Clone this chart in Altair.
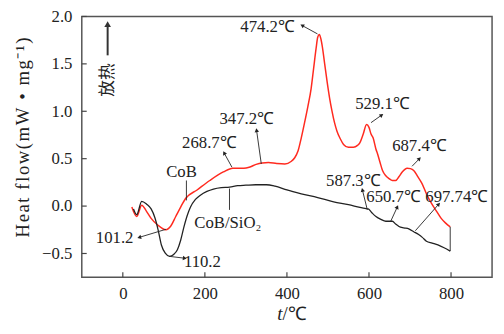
import math
import altair as alt
import pandas as pd

# ---- data ----
cob_t = [22, 34, 46, 57, 69, 85, 105, 117, 129, 141, 153, 181, 212, 245, 268, 295, 308, 325, 340, 355,
         375, 395, 410, 419, 427, 435, 443, 451, 459, 465, 471, 475, 479, 483, 486, 492, 498, 504, 510,
         516, 522, 530, 538, 550, 562, 572, 578, 586, 594, 600, 605, 610, 617, 621, 627, 633, 641, 649,
         657, 665, 673, 681, 693, 701, 709, 719, 729, 740, 752, 764, 776, 787, 798]
cob_v = [-0.01, -0.11, 0.01, -0.05, -0.13, -0.20, -0.25, -0.21, -0.11, -0.01, 0.08, 0.17, 0.27, 0.36,
         0.40, 0.40, 0.41, 0.44, 0.455, 0.46, 0.45, 0.445, 0.47, 0.51, 0.58, 0.72, 0.88, 1.05, 1.24, 1.45,
         1.66, 1.78, 1.81, 1.76, 1.69, 1.50, 1.31, 1.14, 1.00, 0.88, 0.79, 0.71, 0.65, 0.62, 0.62, 0.64,
         0.67, 0.76, 0.86, 0.83, 0.76, 0.72, 0.60, 0.55, 0.46, 0.375, 0.32, 0.29, 0.27, 0.27, 0.31, 0.36,
         0.40, 0.395, 0.375, 0.31, 0.24, 0.13, 0.03, -0.05, -0.13, -0.18, -0.22]

sio_t = [26, 34, 46, 58, 69, 78, 86, 94, 104, 114, 124, 133, 141, 149, 157, 165, 177, 189, 205, 221,
         240, 260, 280, 300, 324, 350, 371, 400, 435, 475, 514, 550, 578, 590, 598, 607, 617, 629, 641,
         657, 665, 673, 685, 697, 709, 721, 730, 740, 754, 768, 783, 798]
sio_v = [-0.03, -0.09, 0.05, 0.02, -0.03, -0.12, -0.25, -0.41, -0.50, -0.53, -0.51, -0.46, -0.36, -0.22,
         -0.10, -0.01, 0.07, 0.115, 0.155, 0.18, 0.195, 0.20, 0.215, 0.22, 0.225, 0.225, 0.21, 0.17, 0.13,
         0.09, 0.045, 0.015, -0.014, -0.025, -0.03, -0.07, -0.11, -0.14, -0.16, -0.16, -0.19, -0.215,
         -0.23, -0.24, -0.27, -0.30, -0.33, -0.37, -0.39, -0.41, -0.44, -0.475]

x_ticks = [0, 200, 400, 600, 800]
y_ticks = [-0.5, 0.0, 0.5, 1.0, 1.5, 2.0]

y_title = "Heat flow(mW • mg⁻¹)"

label_text = ["474.2℃", "347.2℃", "268.7℃", "CoB", "CoB/SiO₂", "101.2", "110.2",
              "529.1℃", "687.4℃", "587.3℃", "650.7℃", "697.74℃"]
label_x = [353, 302, 211, 143, 256, -20, 194, 633, 723, 562, 660, 814]
label_y = [1.885, 0.914, 0.66, 0.357, -0.18, -0.336, -0.586, 1.076, 0.628, 0.264, 0.097, 0.097]

# arrows: tail (on curve) -> head (at label)
arr_x1 = [474.5, 337.5, 266, 105, 113, 605, 705, 596, 653, 713]
arr_y1 = [1.816, 0.445, 0.41, -0.245, -0.53, 0.88, 0.42, -0.04, -0.16, -0.26]
arr_x2 = [437, 326, 247, 40, 151, 631, 723, 584, 669, 770]
arr_y2 = [1.905, 0.80, 0.56, -0.33, -0.55, 0.96, 0.50, 0.17, -0.01, 0.02]

# the upward "exothermic" arrow
exo_x1, exo_y1, exo_x2, exo_y2 = [-37], [1.59], [-37], [1.92]

# plain pointer lines
ln_x1 = [155, 260, 798]
ln_y1 = [0.27, 0.185, -0.475]
ln_x2 = [155, 260, 798]
ln_y2 = [0.06, -0.04, -0.22]

W, H = 417, 265
XD = [-100, 900]
YD = [-0.75, 2.0]
FONT = "Liberation Serif"

xs = alt.Scale(domain=XD, nice=False, zero=False)
ys = alt.Scale(domain=YD, nice=False, zero=False)

px_x = W / (XD[1] - XD[0])
px_y = H / (YD[1] - YD[0])


def angles(x1, y1, x2, y2):
    return [math.degrees(math.atan2((b - a) * px_x, (d - c) * px_y)) % 360
            for a, b, c, d in zip(x1, x2, y1, y2)]


cob = pd.DataFrame({"t": cob_t, "v": cob_v})
sio = pd.DataFrame({"t": sio_t, "v": sio_v})
labels = pd.DataFrame({"txt": label_text, "x": label_x, "y": label_y})
arrows = pd.DataFrame({"x1": arr_x1, "y1": arr_y1, "x2": arr_x2, "y2": arr_y2,
                       "ang": angles(arr_x1, arr_y1, arr_x2, arr_y2)})
exo = pd.DataFrame({"x1": exo_x1, "y1": exo_y1, "x2": exo_x2, "y2": exo_y2,
                    "ang": angles(exo_x1, exo_y1, exo_x2, exo_y2)})
lines = pd.DataFrame({"x1": ln_x1, "y1": ln_y1, "x2": ln_x2, "y2": ln_y2})

spaced_title = "\u200a".join(y_title)

base_x = alt.X("t:Q", scale=xs,
               axis=alt.Axis(values=x_ticks, title=None, ticks=False, domain=False, grid=False,
                             labelPadding=9, labelFontSize=17, labelFont=FONT, labelColor="#222"))
base_y = alt.Y("v:Q", scale=ys,
               axis=alt.Axis(values=y_ticks, format=".1f", title=spaced_title,
                             ticks=False, domain=False, grid=False, labelPadding=10,
                             labelFontSize=17, labelFont=FONT, labelColor="#222",
                             titleFont=FONT, titleFontSize=19, titleFontWeight="normal",
                             titleColor="#222", titlePadding=9, titleY=H / 2 - 10))

red = alt.Chart(cob).mark_line(color="#ff2a1f", strokeWidth=1.5, interpolate="monotone").encode(
    x=base_x, y=base_y)
black = alt.Chart(sio).mark_line(color="#222222", strokeWidth=1.3, interpolate="monotone").encode(
    x=alt.X("t:Q", scale=xs), y=alt.Y("v:Q", scale=ys))

arrow_lines = alt.Chart(arrows).mark_rule(color="#222", strokeWidth=0.9).encode(
    x=alt.X("x1:Q", scale=xs), y=alt.Y("y1:Q", scale=ys), x2="x2:Q", y2="y2:Q")
arrow_heads = alt.Chart(arrows).mark_point(shape="triangle-up", filled=True, size=20,
                                           color="#222", opacity=1).encode(
    x=alt.X("x2:Q", scale=xs), y=alt.Y("y2:Q", scale=ys), angle=alt.Angle("ang:Q", scale=None))
exo_line = alt.Chart(exo).mark_rule(color="#333", strokeWidth=2).encode(
    x=alt.X("x1:Q", scale=xs), y=alt.Y("y1:Q", scale=ys), x2="x2:Q", y2="y2:Q")
exo_head = alt.Chart(exo).mark_point(shape="triangle-up", filled=True, size=45,
                                     color="#333", opacity=1).encode(
    x=alt.X("x2:Q", scale=xs), y=alt.Y("y2:Q", scale=ys), angle=alt.Angle("ang:Q", scale=None))
plain = alt.Chart(lines).mark_rule(color="#222", strokeWidth=0.9).encode(
    x=alt.X("x1:Q", scale=xs), y=alt.Y("y1:Q", scale=ys), x2="x2:Q", y2="y2:Q")

texts = alt.Chart(labels).mark_text(font=FONT, fontSize=17, color="#222", align="center",
                                    baseline="middle").encode(
    x=alt.X("x:Q", scale=xs), y=alt.Y("y:Q", scale=ys), text="txt:N")

heat = alt.Chart(pd.DataFrame({"x": [-37], "y": [1.33], "txt": ["放热"]})).mark_text(
    font="Noto Sans CJK SC", fontSize=17, color="#222", angle=270, align="center",
    baseline="middle").encode(x=alt.X("x:Q", scale=xs), y=alt.Y("y:Q", scale=ys), text="txt:N")

xt = alt.Chart(pd.DataFrame({"t": x_ticks})).mark_rule(color="#444", strokeWidth=1.2).encode(
    x=alt.X("t:Q", scale=xs), y=alt.value(H), y2=alt.value(H - 5))
yt = alt.Chart(pd.DataFrame({"v": y_ticks})).mark_rule(color="#444", strokeWidth=1.2).encode(
    y=alt.Y("v:Q", scale=ys), x=alt.value(0), x2=alt.value(5))

xt_title_t = alt.Chart(pd.DataFrame({"s": ["t"]})).mark_text(
    font=FONT, fontSize=19, fontStyle="italic", color="#222", align="right",
    baseline="alphabetic").encode(x=alt.value(204), y=alt.value(H + 44), text="s:N")
xt_title_r = alt.Chart(pd.DataFrame({"s": ["/℃"]})).mark_text(
    font=FONT, fontSize=19, color="#222", align="left", baseline="alphabetic").encode(
    x=alt.value(204), y=alt.value(H + 44), text="s:N")

chart = alt.layer(red, black, plain, arrow_lines, arrow_heads, exo_line, exo_head, texts, heat,
                  xt, yt, xt_title_t, xt_title_r).properties(
    width=W, height=H,
    autosize=alt.AutoSizeParams(type="none"),
    padding={"left": 75, "top": 6, "right": 4, "bottom": 47},
    background="white",
).configure_view(stroke="#555", strokeWidth=1.5)

chart.save("out.html", embed_options={"renderer": "svg", "actions": False})
